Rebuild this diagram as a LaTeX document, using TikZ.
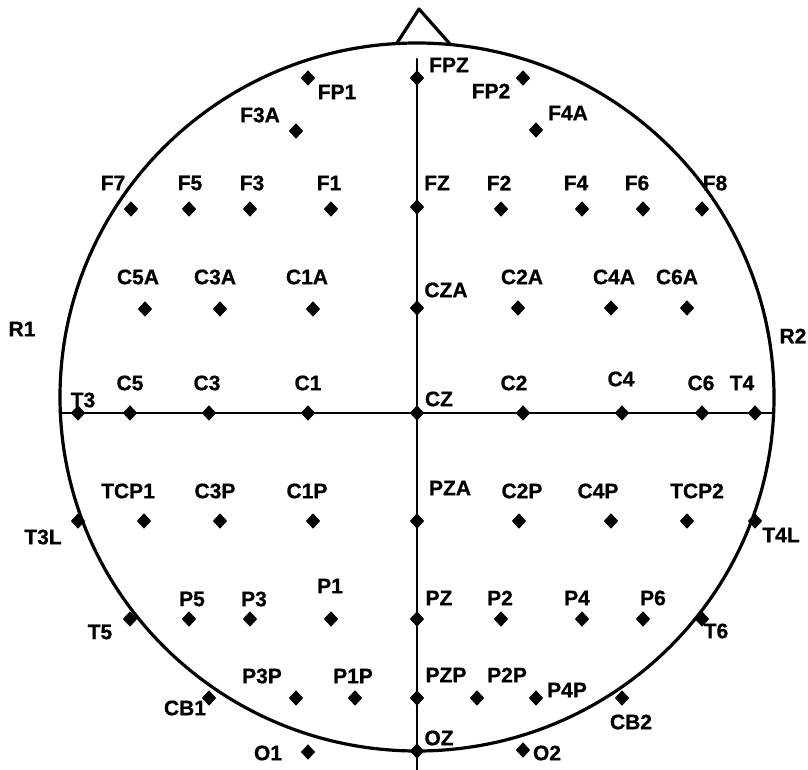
\documentclass[tikz,border=0pt]{standalone}
\usepackage{fontspec}
\setmainfont{Liberation Sans}
\newfontfamily\sitefont{Liberation Sans Bold}[FakeBold=0.8]
\usetikzlibrary{shapes.geometric}

\begin{document}
\begin{tikzpicture}[x=1pt,y=-1pt,line cap=round,line join=round,
  electrode/.style={diamond,fill=black,inner sep=0pt,minimum width=14.5pt,minimum height=15.5pt},
  sitename/.style={inner sep=0pt,font=\sitefont\fontsize{21}{21}\selectfont},
  outline/.style={line width=3.2pt},
  axis/.style={line width=2.8pt}]
  \useasboundingbox (0,0) rectangle (808,770);
  % head and nose
  \draw[outline] (417,397) ellipse [x radius=357pt,y radius=354pt];
  \draw[outline] (397,43) -- (419,9) -- (450,44);
  % midline and T3--T4 line
  \coordinate (front) at (417,59);
  \coordinate (back) at (417,770);
  \coordinate (left) at (60,413);
  \coordinate (right) at (774,413);
  \draw[axis] (front) -- (back);
  \draw[axis] (left) -- (right);
  % electrodes: name/x/y/label x/label y
  \foreach \name/\ex/\ey/\lx/\ly in {
    FP1/308/78/337/92, F3A/296/131/260/115, FPZ/417/78/449/65,
    FP2/523/78/491/91, F4A/536/130/568/113,
    F7/131/209/113/183, F5/189/209/190/183, F3/250/209/252/183,
    F1/331/209/329/183, FZ/417/207/437/183, F2/501/209/499/183,
    F4/582/209/576/183, F6/643/209/637/183, F8/702/209/715/183,
    C5A/145/309/138/277, C3A/220/309/215/277, C1A/313/309/307/277,
    CZA/417/308/446/290, C2A/518/308/522/277, C4A/611/308/614/277,
    C6A/687/308/677/277,
    T3/78/413/83/400, C5/130/413/130/383, C3/209/413/207/383,
    C1/308/413/308/383, CZ/417/413/439/399, C2/523/413/514/383,
    C4/622/413/621/379, C6/702/413/701/383, T4/755/413/742/383,
    T3L/78/521/43/537, TCP1/144/521/128/491, C3P/220/521/215/491,
    C1P/313/521/307/491, PZA/417/521/450/488, C2P/519/521/522/491,
    C4P/611/521/598/491, TCP2/687/521/697/491, T4L/755/521/781/535,
    T5/130/619/100/632, P5/189/619/192/599, P3/250/619/254/599,
    P1/331/619/330/586, PZ/417/619/439/598, P2/501/619/500/598,
    P4/582/619/577/598, P6/643/619/653/598, T6/702/619/716/631,
    CB1/209/698/185/708, P3P/296/698/262/676, P1P/355/698/353/676,
    PZP/417/698/446/675, P2P/477/698/507/675, P4P/536/698/567/690,
    CB2/622/698/631/722,
    O1/308/752/268/753, OZ/417/751/439/738, O2/523/750/547/753} {
    \node[electrode] (\name) at (\ex,\ey) {};
    \node[sitename] (\name-txt) at (\lx,\ly) {\name};
  }
  % reference electrodes
  \node[sitename] (R1) at (22,329) {R1};
  \node[sitename] (R2) at (793,336) {R2};
\end{tikzpicture}
\end{document}
